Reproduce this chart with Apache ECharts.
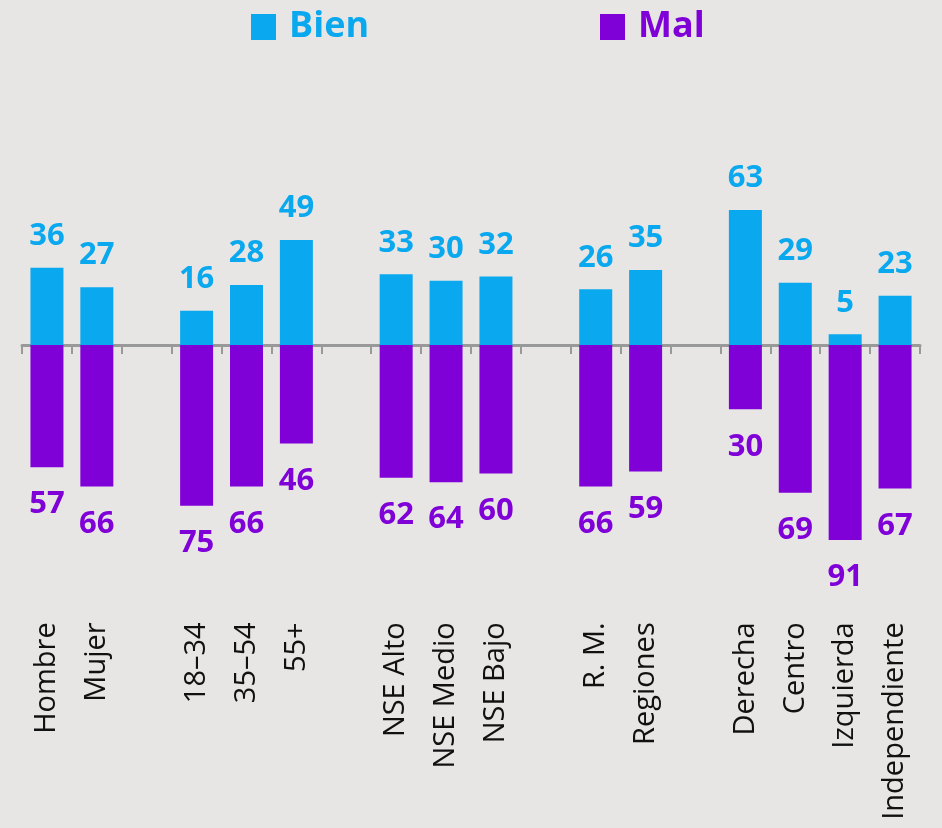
<!DOCTYPE html>
<html>
<head>
<meta charset="utf-8">
<script src="https://cdn.jsdelivr.net/npm/echarts@6/dist/echarts.min.js"></script>
<style>
  html, body { margin: 0; padding: 0; background: #e7e6e5; }
  #chart { width: 942px; height: 828px; }
</style>
</head>
<body>
<div id="chart"></div>
<script>
// categories, blank entries are the gaps between groups
var categories = ['Hombre', 'Mujer', ' ', '18–34', '35–54', '55+', '  ',
    'NSE Alto', 'NSE Medio', 'NSE Bajo', '   ', 'R. M.', 'Regiones', '    ',
    'Derecha', 'Centro', 'Izquierda', 'Independiente'];
var bienValues = [36, 27, null, 16, 28, 49, null, 33, 30, 32, null, 26, 35, null, 63, 29, 5, 23];
var malValues = [57, 66, null, 75, 66, 46, null, 62, 64, 60, null, 66, 59, null, 30, 69, 91, 67];

var colorBien = '#0aa8ee';
var colorMal = '#8000d8';
var fontName = '"Open Sans", sans-serif';

var chart = echarts.init(document.getElementById('chart'));

var option = {
    backgroundColor: '#e7e6e5',
    textStyle: { fontFamily: fontName },
    legend: [
        {
            data: ['Bien'],
            left: 246,
            top: 4,
            itemWidth: 25,
            itemHeight: 26,
            icon: 'rect',
            textStyle: { color: colorBien, fontSize: 36, fontWeight: 'bold', fontFamily: fontName, padding: [0, 0, 0, 8] }
        },
        {
            data: ['Mal'],
            left: 595,
            top: 4,
            itemWidth: 25,
            itemHeight: 26,
            icon: 'rect',
            textStyle: { color: colorMal, fontSize: 36, fontWeight: 'bold', fontFamily: fontName, padding: [0, 0, 0, 8] }
        }
    ],
    grid: {
        left: 22,
        right: 22,
        top: 130.7,
        bottom: 268.7
    },
    xAxis: [
        {
            type: 'category',
            data: categories,
            axisLine: { onZero: true, lineStyle: { color: '#999999', width: 3 } },
            axisTick: { show: true, interval: 0, length: 9, lineStyle: { color: '#999999', width: 2 } },
            axisLabel: { show: false }
        },
        {
            type: 'category',
            data: categories,
            position: 'bottom',
            axisLine: { show: false, onZero: false },
            axisTick: { show: false },
            axisLabel: {
                interval: 0,
                rotate: 90,
                margin: 63,
                color: '#111111',
                fontSize: 29,
                fontFamily: fontName
            }
        }
    ],
    yAxis: {
        type: 'value',
        min: -100,
        max: 100,
        show: false,
        splitLine: { show: false }
    },
    series: [
        {
            name: 'Bien',
            type: 'bar',
            xAxisIndex: 0,
            barWidth: 33,
            barGap: '-100%',
            itemStyle: { color: colorBien },
            label: {
                show: true,
                position: 'top',
                distance: 16,
                color: colorBien,
                fontSize: 31,
                fontWeight: 'bold',
                fontFamily: fontName
            },
            data: bienValues
        },
        {
            name: 'Mal',
            type: 'bar',
            xAxisIndex: 0,
            barWidth: 33,
            barGap: '-100%',
            itemStyle: { color: colorMal },
            label: {
                show: true,
                position: 'bottom',
                distance: 22,
                color: colorMal,
                fontSize: 31,
                fontWeight: 'bold',
                fontFamily: fontName,
                formatter: function (p) { return Math.abs(p.value); }
            },
            data: malValues.map(function (v) { return v == null ? null : -v; })
        }
    ]
};

chart.setOption(option);
</script>
</body>
</html>
